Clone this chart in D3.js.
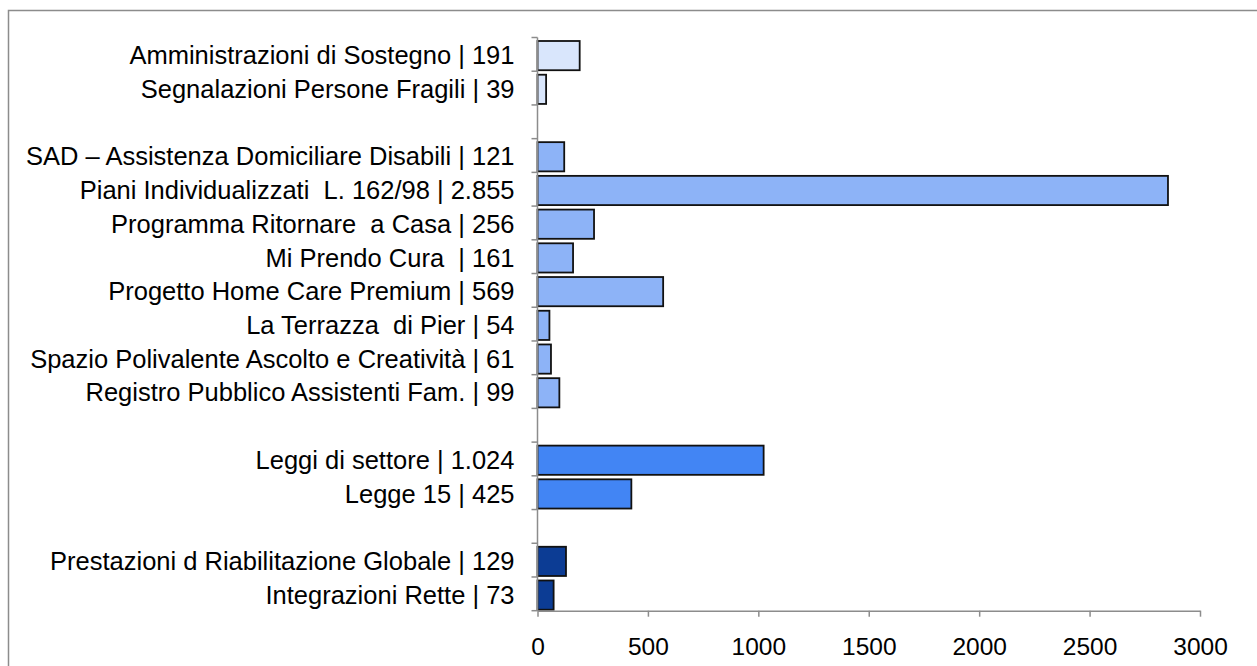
<!DOCTYPE html>
<html>
<head>
<meta charset="utf-8">
<script src="https://cdn.jsdelivr.net/npm/d3@7"></script>
<style>
  body { margin: 0; background: #fff; }
  svg text { font-family: "Liberation Sans", Arial, sans-serif; fill: #000; white-space: pre; }
</style>
</head>
<body>
<div id="chart"></div>
<script>
// rows from top to bottom; empty string = spacer row between groups
const labels = [
  "Amministrazioni di Sostegno | 191",
  "Segnalazioni Persone Fragili | 39",
  "",
  "SAD \u2013 Assistenza Domiciliare Disabili | 121",
  "Piani Individualizzati  L. 162/98 | 2.855",
  "Programma Ritornare  a Casa | 256",
  "Mi Prendo Cura  | 161",
  "Progetto Home Care Premium | 569",
  "La Terrazza  di Pier | 54",
  "Spazio Polivalente Ascolto e Creativit\u00e0 | 61",
  "Registro Pubblico Assistenti Fam. | 99",
  "",
  "Leggi di settore | 1.024",
  "Legge 15 | 425",
  "",
  "Prestazioni d Riabilitazione Globale | 129",
  "Integrazioni Rette | 73"
];
const values = [191, 39, null, 121, 2855, 256, 161, 569, 54, 61, 99, null, 1024, 425, null, 129, 73];
const groups = [0, 0, null, 1, 1, 1, 1, 1, 1, 1, 1, null, 2, 2, null, 3, 3];
const groupColors = ["#d9e6fc", "#8db3f7", "#4285f4", "#0c3c94"];
const xTicks = [0, 500, 1000, 1500, 2000, 2500, 3000];

const W = 1257, H = 666;
const plotLeft = 537.5, plotRight = 1200, plotTop = 37.5, plotBottom = 610.7;

const svg = d3.select("#chart").append("svg")
  .attr("width", W)
  .attr("height", H);

// outer frame (right/bottom edges fall outside the picture)
svg.append("rect")
  .attr("x", 8.5).attr("y", 10.5)
  .attr("width", W + 10).attr("height", H + 10)
  .attr("fill", "none")
  .attr("stroke", "#8c8c8c")
  .attr("stroke-width", 1.5);

const x = d3.scaleLinear().domain([0, 3000]).range([plotLeft, plotRight]);
const y = d3.scaleBand().domain(d3.range(labels.length)).range([plotTop, plotBottom]);

// bars
const rows = d3.range(labels.length).filter(i => values[i] != null);
svg.append("g").selectAll("rect")
  .data(rows)
  .join("rect")
  .attr("x", x(0))
  .attr("y", i => y(i) + 3.5)
  .attr("width", i => x(values[i]) - x(0))
  .attr("height", y.bandwidth() - 4.5)
  .attr("fill", i => groupColors[groups[i]])
  .attr("stroke", "#111")
  .attr("stroke-width", 1.8);

// y axis: line + ticks at band boundaries
const yAxis = svg.append("g");
yAxis.append("line")
  .attr("x1", plotLeft).attr("x2", plotLeft)
  .attr("y1", plotTop).attr("y2", plotBottom)
  .attr("stroke", "#8c8c8c").attr("stroke-width", 1.5);
yAxis.selectAll("line.tick")
  .data(d3.range(labels.length + 1))
  .join("line")
  .attr("class", "tick")
  .attr("x1", plotLeft - 6).attr("x2", plotLeft)
  .attr("y1", i => i < labels.length ? y(i) : plotBottom)
  .attr("y2", i => i < labels.length ? y(i) : plotBottom)
  .attr("stroke", "#8c8c8c").attr("stroke-width", 1.5);
yAxis.selectAll("text")
  .data(rows)
  .join("text")
  .attr("x", plotLeft - 23)
  .attr("y", i => y(i) + y.bandwidth() / 2 + 1)
  .attr("dy", "0.35em")
  .attr("text-anchor", "end")
  .attr("font-size", "25.5px")
  .text(i => labels[i]);

// x axis
const xAxis = svg.append("g")
  .attr("transform", `translate(0,${plotBottom})`)
  .call(d3.axisBottom(x).tickValues(xTicks).tickFormat(d3.format("d"))
    .tickSize(6).tickSizeOuter(0).tickPadding(21));
xAxis.select(".domain").attr("stroke", "#8c8c8c").attr("stroke-width", 1.5);
xAxis.selectAll(".tick line").attr("stroke", "#8c8c8c").attr("stroke-width", 1.5);
xAxis.selectAll(".tick text")
  .attr("font-size", "24.5px")
  .attr("font-family", "Liberation Sans, Arial, sans-serif")
  .attr("fill", "#000");
</script>
</body>
</html>
